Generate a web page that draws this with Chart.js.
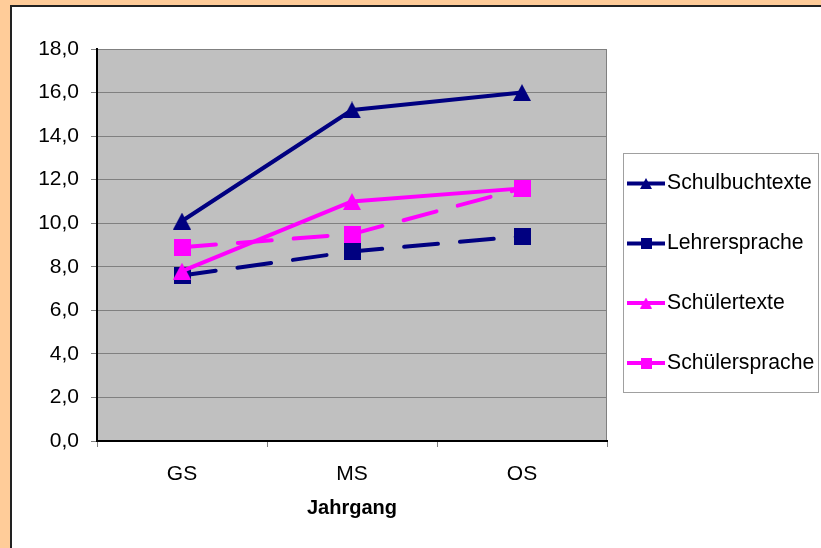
<!DOCTYPE html>
<html>
<head>
<meta charset="utf-8">
<script src="https://cdn.jsdelivr.net/npm/chart.js@4/dist/chart.umd.min.js"></script>
<style>
  html, body { margin: 0; padding: 0; background: #FFCC99; overflow: hidden; }
  canvas { display: block; }
</style>
</head>
<body>
<canvas id="c" width="821" height="548"></canvas>
<script>
// Categories and series values
const categories = ['GS', 'MS', 'OS'];
const seriesNames = ['Schulbuchtexte', 'Lehrersprache', 'Schülertexte', 'Schülersprache'];
const schulbuchtexte = [10.1, 15.2, 16.0];
const lehrersprache = [7.6, 8.7, 9.4];
const schuelertexte = [7.8, 11.0, 11.6];
const schuelersprache = [8.9, 9.5, 11.6];
const yTicks = [0, 2, 4, 6, 8, 10, 12, 14, 16, 18];
const axisTitle = 'Jahrgang';

const NAVY = '#000080';
const MAGENTA = '#FF00FF';
const FONT = '"Liberation Sans", Arial, sans-serif';

// Marker images, centred on their bounding box
function triangleMarker(color, w, h) {
  const c = document.createElement('canvas');
  c.width = w; c.height = h;
  const g = c.getContext('2d');
  g.fillStyle = color;
  g.beginPath();
  g.moveTo(w / 2, 0);
  g.lineTo(w, h);
  g.lineTo(0, h);
  g.closePath();
  g.fill();
  return c;
}
function squareMarker(color, s) {
  const c = document.createElement('canvas');
  c.width = s; c.height = s;
  const g = c.getContext('2d');
  g.fillStyle = color;
  g.fillRect(0, 0, s, s);
  return c;
}

const markers = [
  triangleMarker(NAVY, 18, 17),
  squareMarker(NAVY, 17),
  triangleMarker(MAGENTA, 18, 17),
  squareMarker(MAGENTA, 17)
];
const legendMarkers = [
  triangleMarker(NAVY, 12, 11),
  squareMarker(NAVY, 11),
  triangleMarker(MAGENTA, 12, 11),
  squareMarker(MAGENTA, 11)
];

const fmt = v => v.toFixed(1).replace('.', ',');

// Page frame, grey plot area and its right edge
const framePlugin = {
  id: 'frame',
  beforeDraw(chart) {
    const ctx = chart.ctx;
    const a = chart.chartArea;
    ctx.save();
    ctx.fillStyle = '#FFCC99';
    ctx.fillRect(0, 0, chart.width, chart.height);
    ctx.fillStyle = '#FFFFFF';
    ctx.fillRect(10, 5, chart.width - 10, chart.height - 5);
    ctx.fillStyle = '#222222';
    ctx.fillRect(10, 5, 2, chart.height - 5);
    ctx.fillRect(10, 5, chart.width - 10, 2);
    ctx.fillStyle = '#C0C0C0';
    ctx.fillRect(a.left, a.top, a.right - a.left, a.bottom - a.top);
    ctx.strokeStyle = '#808080';
    ctx.lineWidth = 1;
    ctx.beginPath();
    ctx.moveTo(a.right - 0.5, a.top);
    ctx.lineTo(a.right - 0.5, a.bottom);
    ctx.stroke();
    ctx.restore();
  }
};

// Legend box on the right
const legendPlugin = {
  id: 'sideLegend',
  afterDraw(chart) {
    const ctx = chart.ctx;
    const box = { x: 623.5, y: 153.5, w: 195, h: 239 };
    ctx.save();
    ctx.fillStyle = '#FFFFFF';
    ctx.fillRect(box.x, box.y, box.w, box.h);
    ctx.strokeStyle = '#A0A0A0';
    ctx.lineWidth = 1;
    ctx.strokeRect(box.x, box.y, box.w, box.h);
    const rows = [183.5, 243.5, 303, 363];
    chart.data.datasets.forEach((ds, i) => {
      const y = rows[i];
      ctx.strokeStyle = ds.borderColor;
      ctx.lineWidth = 4;
      ctx.lineCap = 'butt';
      ctx.beginPath();
      ctx.moveTo(627, y);
      ctx.lineTo(665, y);
      ctx.stroke();
      const m = legendMarkers[i];
      ctx.drawImage(m, 646 - m.width / 2, y - m.height / 2);
      ctx.fillStyle = '#000000';
      ctx.font = '21.2px ' + FONT;
      ctx.textBaseline = 'middle';
      ctx.textAlign = 'left';
      ctx.fillText(ds.label, 667, y);
    });
    ctx.restore();
  }
};

const seriesData = [schulbuchtexte, lehrersprache, schuelertexte, schuelersprache];
const seriesColors = [NAVY, NAVY, MAGENTA, MAGENTA];
const seriesDashed = [false, true, false, true];

new Chart(document.getElementById('c'), {
  type: 'line',
  data: {
    labels: categories,
    datasets: seriesData.map((d, i) => ({
      label: seriesNames[i],
      data: d,
      borderColor: seriesColors[i],
      backgroundColor: seriesColors[i],
      borderWidth: 4,
      borderDash: seriesDashed[i] ? [34, 22] : [],
      borderCapStyle: seriesDashed[i] ? 'round' : 'butt',
      borderJoinStyle: 'round',
      pointStyle: markers[i],
      pointRadius: 9,
      pointHoverRadius: 9,
      tension: 0,
      fill: false,
      order: 3 - i
    }))
  },
  options: {
    responsive: false,
    animation: false,
    devicePixelRatio: 1,
    events: [],
    layout: { padding: { left: 0, top: 49, right: 214, bottom: 0 } },
    plugins: {
      legend: { display: false },
      tooltip: { enabled: false }
    },
    scales: {
      x: {
        type: 'category',
        offset: true,
        afterFit(scale) { scale.height = 107; },
        grid: {
          offset: true,
          drawOnChartArea: false,
          drawTicks: true,
          tickLength: 6,
          tickColor: '#808080',
          tickWidth: 1
        },
        border: { display: true, color: '#000000', width: 2 },
        ticks: {
          color: '#000000',
          font: { family: FONT, size: 21 },
          padding: 15,
          maxRotation: 0
        },
        title: {
          display: true,
          text: axisTitle,
          color: '#000000',
          font: { family: FONT, size: 20, weight: 'bold' },
          padding: { top: 0, bottom: 28 }
        }
      },
      y: {
        min: yTicks[0],
        max: yTicks[yTicks.length - 1],
        afterFit(scale) { scale.width = 97; },
        afterBuildTicks(scale) { scale.ticks = yTicks.map(v => ({ value: v })); },
        grid: {
          color: '#808080',
          lineWidth: 1,
          drawTicks: true,
          tickLength: 6,
          tickColor: '#808080'
        },
        border: { display: true, color: '#000000', width: 2 },
        ticks: {
          color: '#000000',
          font: { family: FONT, size: 21 },
          padding: 12,
          callback: v => fmt(v)
        }
      }
    }
  },
  plugins: [framePlugin, legendPlugin]
});
</script>
</body>
</html>
